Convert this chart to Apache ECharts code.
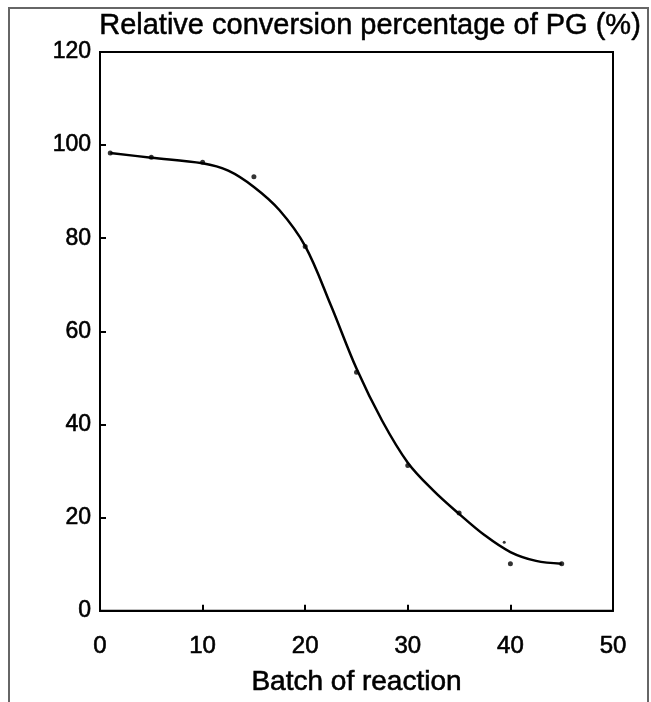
<!DOCTYPE html>
<html><head><meta charset="utf-8">
<script src="https://cdn.jsdelivr.net/npm/echarts@6/dist/echarts.min.js"></script>
<style>html,body{margin:0;padding:0;background:#fff}#c{width:651px;height:702px}</style>
</head><body><div id="c"></div>
<script>
const titleText = 'Relative conversion percentage of PG (%)';
const xName = 'Batch of reaction';
const pointX = [1, 5, 10, 15, 20, 25, 30, 35, 40, 45];
const pointY = [98.3, 97.4, 96.3, 93.2, 78.2, 51.2, 31.2, 21.0, 10.1, 10.1];
const strayPoint = [[39.4, 14.7]];
const curveX = [1, 5, 10, 12.5, 15, 17.5, 20, 22.5, 25, 27.5, 30, 32.5, 35, 37.5, 40, 42.5, 45];
const curveY = [98.3, 97.3, 96.1, 94.5, 91.0, 86.0, 78.3, 65.6, 52.0, 40.8, 31.8, 25.8, 20.8, 16.2, 12.6, 10.7, 10.1];

const F = '"Liberation Sans", Arial, Helvetica, sans-serif';
const chart = echarts.init(document.getElementById('c'), null, {renderer: 'canvas'});
const lbl = {fontFamily: F, fontSize: 23, color: '#000', textBorderColor: '#000', textBorderWidth: 0.6};
chart.setOption({
  animation: false,
  backgroundColor: '#fff',
  grid: {left: 100, right: 38, top: 52, bottom: 77, show: true, borderColor: '#000', borderWidth: 2, backgroundColor: 'transparent'},
  graphic: [
    {type: 'rect', shape: {x: 9, y: 8, width: 639, height: 710}, style: {fill: 'none', stroke: '#666', lineWidth: 2}, silent: true},
    {type: 'text', x: 370, y: 26, style: {text: titleText, font: '29px ' + F, fill: '#000', stroke: '#000', lineWidth: 0.5, textAlign: 'center', textVerticalAlign: 'middle'}}
  ],
  xAxis: {
    type: 'value', min: 0, max: 50, interval: 10,
    name: xName, nameLocation: 'middle', nameGap: 58,
    nameTextStyle: Object.assign({}, lbl, {fontSize: 28}),
    axisLine: {show: true, lineStyle: {color: '#000', width: 2}},
    axisTick: {show: true, inside: true, length: 6, lineStyle: {color: '#000', width: 2}},
    axisLabel: Object.assign({}, lbl, {fontSize: 24, margin: 24}),
    splitLine: {show: false}
  },
  yAxis: {
    type: 'value', min: 0, max: 120, interval: 20,
    axisLine: {show: true, lineStyle: {color: '#000', width: 2}},
    axisTick: {show: true, inside: true, length: 6, lineStyle: {color: '#000', width: 2}},
    axisLabel: Object.assign({}, lbl, {margin: 9}),
    splitLine: {show: false}
  },
  series: [
    {type: 'line', data: curveX.map((x, i) => [x, curveY[i]]), smooth: 0.35, showSymbol: false, symbol: 'none',
     lineStyle: {color: '#000', width: 2.5}, z: 2},
    {type: 'scatter', data: pointX.map((x, i) => [x, pointY[i]]), symbol: 'circle', symbolSize: 5,
     itemStyle: {color: '#000'}, z: 3},
    {type: 'scatter', data: strayPoint, symbol: 'circle', symbolSize: 3, itemStyle: {color: '#000'}, z: 3}
  ]
});
</script></body></html>
